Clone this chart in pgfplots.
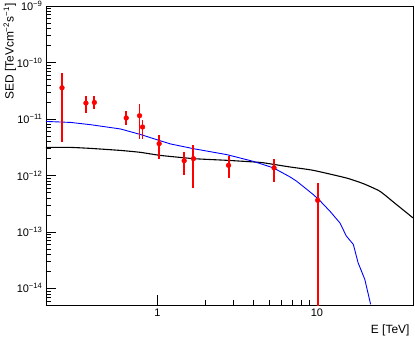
\documentclass[border=0pt]{standalone}
\usepackage{pgfplots}
\pgfplotsset{compat=1.18}
\usepackage{pgfplotstable}
\usepackage{fontspec}
\setmainfont{Liberation Sans}

% measured points: E, SED, upper error, lower error
\pgfplotstableread{
E      sed       ep        em
0.252  3.56e-11  3.04e-11  3.165e-11
0.356  1.91e-11  0.69e-11  0.66e-11
0.402  1.96e-11  0.54e-11  0.49e-11
0.637  1.04e-11  0.32e-11  0.26e-11
0.772  1.14e-11  0.72e-11  0.70e-11
0.806  7.2e-12   2.4e-12   2.8e-12
1.024  3.65e-12  1.45e-12  1.69e-12
1.47   1.82e-12  0.78e-12  0.82e-12
1.68   1.98e-12  1.52e-12  1.38e-12
2.79   1.51e-12  0.73e-12  0.61e-12
5.38   1.36e-12  0.60e-12  0.605e-12
10.1   3.63e-13  3.57e-13  3.629e-13
}\points

\begin{document}
\begin{tikzpicture}
\begin{axis}[
    at={(0,0)}, anchor=south west,
    scale only axis,
    width=367bp, height=299bp,
    xmode=log, ymode=log,
    xmin=0.2, xmax=40,
    ymin=5.07e-15, ymax=1e-9,
    axis line style={line width=0.8pt},
    tick style={black, line width=0.6pt},
    tick align=inside,
    xtick pos=bottom, ytick pos=left,
    major tick length=10bp, minor tick length=5bp,
    ticklabel style={font=\fontsize{11}{13}\selectfont},
    log ticks with fixed point,
    /pgf/number format/assume math mode=true,
    xtick={1,10},
    yticklabel={10\textsuperscript{\pgfmathparse{int(round(-\tick/2.302585093))}−\pgfmathresult}},
    xlabel={E [TeV]},
    ylabel={SED [TeVcm\textsuperscript{−2}s\textsuperscript{−1}]},
    label style={font=\fontsize{12}{14}\selectfont},
    xlabel style={at={(axis description cs:1,0)}, anchor=north east, yshift=-16bp},
    ylabel style={at={(axis description cs:-0.125,1.02)}, anchor=north east},
]

% black model
\addplot[black, line width=1.1pt, smooth, tension=0.3] coordinates {
(0.2,3.13e-12) (0.286,3.13e-12) (0.381,3.01e-12) (0.587,2.77e-12)
(0.783,2.56e-12) (1.044,2.26e-12) (1.686,1.98e-12) (2.73,1.85e-12)
(4.40,1.70e-12) (5.33,1.57e-12) (6.78,1.41e-12) (9.48,1.23e-12)
(15.3,9.0e-13) (19.5,7.16e-13) (24.8,5.24e-13) (31.5,3.05e-13)
(40.0,1.77e-13)
};

% blue model
\addplot[blue, line width=0.9pt] coordinates {
(0.2,9.04e-12) (0.286,8.67e-12) (0.381,7.91e-12) (0.587,6.64e-12)
(0.783,5.3e-12) (1.044,4.1e-12) (1.206,3.61e-12) (1.686,2.97e-12)
(2.73,2.33e-12) (4.0,1.77e-12) (5.33,1.36e-12) (6.78,9.4e-13)
(7.47,7.87e-13) (9.48,4.58e-13) (10.4,3.6e-13) (12.06,2.32e-13)
(13.9,1.45e-13) (15.3,8.4e-14) (16.9,6.0e-14) (18.1,2.85e-14)
(19.95,1.44e-14) (21.7,5.2e-15)
};

% data
\addplot[color=red, only marks, mark=*, mark size=2.4bp,
    error bars/.cd, y dir=both, y explicit,
    error mark=none,
    error bar style={color=red, line width=1.9pt, line cap=butt}]
    table[x=E, y=sed, y error plus=ep, y error minus=em] {\points};

\end{axis}
\pgfresetboundingbox
\path[use as bounding box] (-46bp,-36bp) rectangle (369bp,305bp);
\end{tikzpicture}
\end{document}
